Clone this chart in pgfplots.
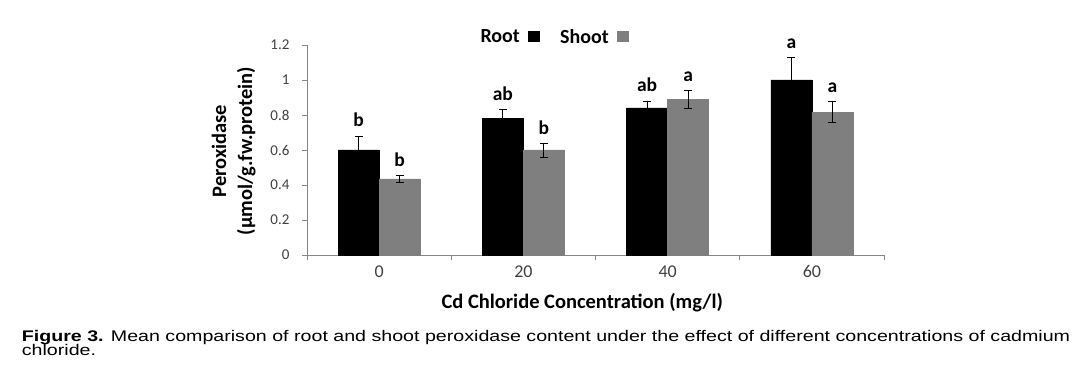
\documentclass[border=0pt]{standalone}
\usepackage{pgfplots}
\usepackage{pgfplotstable}
\pgfplotsset{compat=1.18}
\usepackage{fontspec}
\setmainfont{Carlito}
\newfontfamily\capfont{Liberation Sans}
\definecolor{shootgray}{HTML}{7F7F7F}
\definecolor{axisgray}{HTML}{868686}
\definecolor{ticktext}{HTML}{404040}
\newsavebox\capA
\AtBeginDocument{%
\sbox\capA{\capfont\fontsize{15.4bp}{15.4bp}\selectfont\textbf{Figure 3.} Mean comparison of root and shoot peroxidase content under the effect of different concentrations of cadmium}%
\edef\capwd{\the\wd\capA}%
\pgfmathsetmacro\capsx{1052.2/\capwd}%
}

\pgfplotstableread{
x y err lab
0 0.60 0.08 b
1 0.78 0.05 ab
2 0.84 0.04 ab
3 1.00 0.13 a
}\rootdata
\pgfplotstableread{
x y err lab
0 0.435 0.02 b
1 0.60 0.04 b
2 0.89 0.05 a
3 0.815 0.06 a
}\shootdata

\begin{document}
\begin{tikzpicture}[x=1bp,y=1bp]
\useasboundingbox (0,0) rectangle (1075,383);
\begin{axis}[
  at={(307bp,128bp)}, anchor=south west,
  scale only axis, width=577bp, height=210bp,
  xmin=-0.5, xmax=3.5, ymin=0, ymax=1.2,
  axis x line=bottom, axis y line=left,
  axis line style={-, axisgray, line width=0.8bp},
  tick align=outside,
  tick style={axisgray, line width=0.8bp},
  major tick length=5bp, minor tick length=5bp,
  ytick={0,0.2,0.4,0.6,0.8,1,1.2},
  yticklabels={0,0.2,0.4,0.6,0.8,1,1.2},
  xtick={0,1,2,3}, xticklabels={0,20,40,60},
  major x tick style={draw=none},
  minor xtick={-0.5,0.5,1.5,2.5,3.5},
  /pgf/number format/assume math mode=true,
  yticklabel style={font=\fontsize{15bp}{15bp}\selectfont, text=ticktext, xshift=-9bp},
  xticklabel style={font=\fontsize{18bp}{18bp}\selectfont, text=ticktext, yshift=-2bp},
  ybar=0pt, bar width=41bp,
  ylabel={Peroxidase\\(µmol/g.fw.protein)},
  ylabel style={font=\bfseries\fontsize{20.5bp}{26bp}\selectfont, align=center,
    at={(axis description cs:-0.127,0.495)}, anchor=center},
  xlabel={Cd Chloride Concentration (mg/l)},
  xlabel style={font=\bfseries\fontsize{20.5bp}{20bp}\selectfont,
    at={(axis description cs:0.477,-0.2524)}, anchor=base},
  legend columns=2, legend plot pos=right,
  legend style={draw=none, fill=none, at={(axis description cs:0.427,1.038)}, anchor=center,
    font=\bfseries\fontsize{20bp}{20bp}\selectfont,
    /tikz/every odd column/.append style={column sep=6bp},
    /tikz/every even column/.append style={column sep=19bp}},
  legend image code/.code={\fill[#1] (0bp,-4.5bp) rectangle (11bp,6bp);},
  nodes near coords, point meta=explicit symbolic,
  visualization depends on={\thisrow{err} \as \myerr},
  every node near coord/.append style={font=\bfseries\fontsize{19.5bp}{19.5bp}\selectfont, text=black,
    anchor=base, inner sep=0pt, yshift={\myerr*175bp+9bp}},
  error bars/y dir=both, error bars/y explicit,
  error bars/error bar style={black, line width=0.9bp},
  error bars/error mark options={rotate=90, black, mark size=4bp, line width=0.9bp},
]
\addplot[fill=black, draw=black] table[x=x, y=y, y error=err, meta=lab] {\rootdata};
\addplot[fill=shootgray, draw=shootgray] table[x=x, y=y, y error=err, meta=lab] {\shootdata};
\legend{Root, Shoot}
\end{axis}
\node[anchor=base west, inner sep=0pt] at (21.7,41.8) {\scalebox{\capsx}[1]{\usebox\capA}};
\node[anchor=base west, inner sep=0pt] at (21.7,27.5) {\scalebox{\capsx}[1]{\capfont\fontsize{15.4bp}{15.4bp}\selectfont chloride.}};
\end{tikzpicture}
\end{document}
